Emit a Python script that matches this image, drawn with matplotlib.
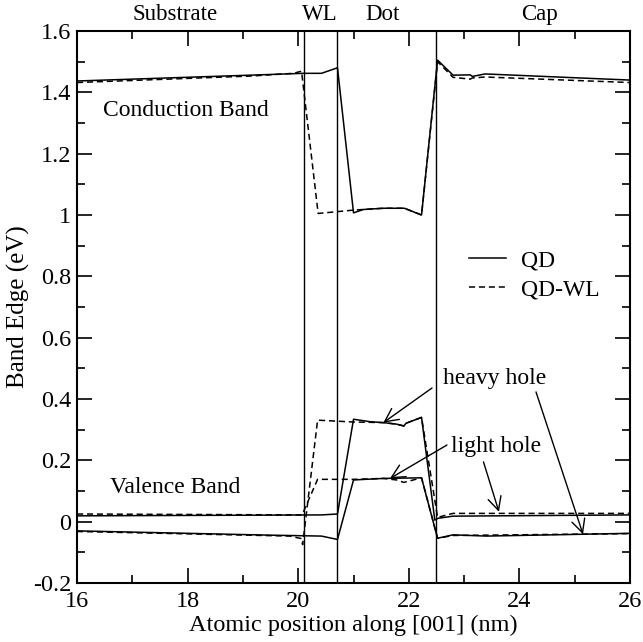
import matplotlib
matplotlib.use('Agg')
import matplotlib.pyplot as plt
from matplotlib.ticker import MultipleLocator, FormatStrFormatter

plt.rcParams['font.family'] = ['Liberation Serif', 'DejaVu Serif']
plt.rcParams['axes.unicode_minus'] = False
plt.rcParams['font.size'] = 17

# interfaces substrate | WL | dot | cap (nm)
interfaces = [20.1, 20.7, 22.5]
regions = ['Substrate', 'WL', 'Dot', 'Cap']
region_x = [17.77, 20.39, 21.53, 24.37]

# conduction band, QD
cb_qd_x = [16.0, 19.13, 20.09, 20.42, 20.71, 21.0, 21.18, 21.54, 21.92, 22.23, 22.52, 22.8, 23.11, 23.15, 23.38, 26.0]
cb_qd_y = [1.437, 1.456, 1.462, 1.462, 1.48, 1.007, 1.018, 1.022, 1.022, 1.0, 1.505, 1.456, 1.457, 1.452, 1.46, 1.44]
# conduction band, QD-WL
cb_wl_x = [16.0, 19.13, 19.91, 20.06, 20.36, 21.0, 21.18, 21.54, 21.92, 22.23, 22.52, 22.8, 23.11, 23.15, 23.38, 26.0]
cb_wl_y = [1.432, 1.453, 1.462, 1.469, 1.005, 1.016, 1.018, 1.022, 1.022, 1.0, 1.5, 1.449, 1.443, 1.447, 1.45, 1.432]

# valence band, QD (two branches)
vb_qd_a_x = [16.0, 20.42, 20.71, 21.0, 21.3, 21.54, 21.78, 21.91, 21.95, 22.23, 22.47, 22.53, 22.8, 26.0]
vb_qd_a_y = [0.019, 0.022, 0.025, 0.334, 0.326, 0.323, 0.318, 0.312, 0.321, 0.34, 0.005, 0.011, 0.018, 0.022]
vb_qd_b_x = [16.0, 19.5, 20.42, 20.71, 21.0, 21.54, 22.23, 22.52, 22.8, 23.4, 25.15, 26.0]
vb_qd_b_y = [-0.030, -0.044, -0.047, -0.058, 0.136, 0.141, 0.143, -0.054, -0.043, -0.047, -0.041, -0.038]

# valence band, QD-WL (two branches)
vb_wl_hh_x = [16.0, 19.85, 20.05, 20.08, 20.35, 21.0, 21.54, 21.78, 21.91, 21.95, 22.23, 22.52, 22.8, 26.0]
vb_wl_hh_y = [-0.032, -0.047, -0.055, -0.075, 0.331, 0.325, 0.323, 0.318, 0.312, 0.321, 0.34, 0.014, 0.027, 0.027]
vb_wl_lh_x = [16.0, 20.07, 20.35, 21.0, 21.54, 21.78, 21.91, 22.23, 22.52, 22.8, 26.0]
vb_wl_lh_y = [0.025, 0.022, 0.138, 0.138, 0.141, 0.136, 0.128, 0.143, -0.054, -0.045, -0.039]

fig = plt.figure(figsize=(6.43, 6.42), dpi=100)
ax = fig.add_axes([0.1198, 0.0919, 0.86, 0.8598])

dash = (0, (4, 2.5))
lw = 1.1
ax.plot(cb_qd_x, cb_qd_y, color='black', lw=lw, label='QD')
ax.plot(cb_wl_x, cb_wl_y, color='black', lw=lw, linestyle=dash, label='QD-WL')
ax.plot(vb_qd_a_x, vb_qd_a_y, color='black', lw=lw)
ax.plot(vb_qd_b_x, vb_qd_b_y, color='black', lw=lw)
ax.plot(vb_wl_hh_x, vb_wl_hh_y, color='black', lw=lw, linestyle=dash)
ax.plot(vb_wl_lh_x, vb_wl_lh_y, color='black', lw=lw, linestyle=dash)

for xi in interfaces:
    ax.axvline(xi, color='black', lw=1.0)

ax.set_xlim(16, 26)
ax.set_ylim(-0.2, 1.6)
ax.xaxis.set_major_locator(MultipleLocator(2))
ax.xaxis.set_minor_locator(MultipleLocator(1))
ax.yaxis.set_major_locator(MultipleLocator(0.2))
ax.yaxis.set_minor_locator(MultipleLocator(0.1))
ax.yaxis.set_major_formatter(FormatStrFormatter('%g'))
ax.tick_params(which='both', direction='in', top=True, right=True, width=1.2,
               labelsize=17.5)
ax.tick_params(which='major', length=11, pad=4)
ax.tick_params(axis='x', which='major', pad=6)
ax.tick_params(which='minor', length=6)
for s in ax.spines.values():
    s.set_linewidth(1.5)

ax.set_xlabel('Atomic position along [001] (nm)', fontsize=17.5, labelpad=2)
ax.set_ylabel('Band Edge (eV)', fontsize=18, labelpad=2)

for name, xr in zip(regions, region_x):
    ax.text(xr, 1.655, name, ha='center', va='center', fontsize=16.5)

ax.text(16.47, 1.342, 'Conduction Band', va='center')
ax.text(16.6, 0.11, 'Valence Band', va='center')

arrow = dict(arrowstyle='->', color='black', lw=1.0, mutation_scale=24, shrinkA=0, shrinkB=0)
ax.text(22.61, 0.467, 'heavy hole', va='center')
ax.annotate('', xy=(21.54, 0.323), xytext=(22.42, 0.436), arrowprops=arrow)
ax.annotate('', xy=(25.15, -0.041), xytext=(24.3, 0.423), arrowprops=arrow)
ax.text(22.77, 0.245, 'light hole', va='center')
ax.annotate('', xy=(21.66, 0.141), xytext=(22.69, 0.25), arrowprops=arrow)
ax.annotate('', xy=(23.63, 0.032), xytext=(23.35, 0.195), arrowprops=arrow)

ax.legend(loc='upper left', bbox_to_anchor=(0.709, 0.603), frameon=False,
          handlelength=1.55, handletextpad=0.65, borderpad=0, borderaxespad=0,
          labelspacing=0.3)

fig.savefig('out.png', dpi=100)
